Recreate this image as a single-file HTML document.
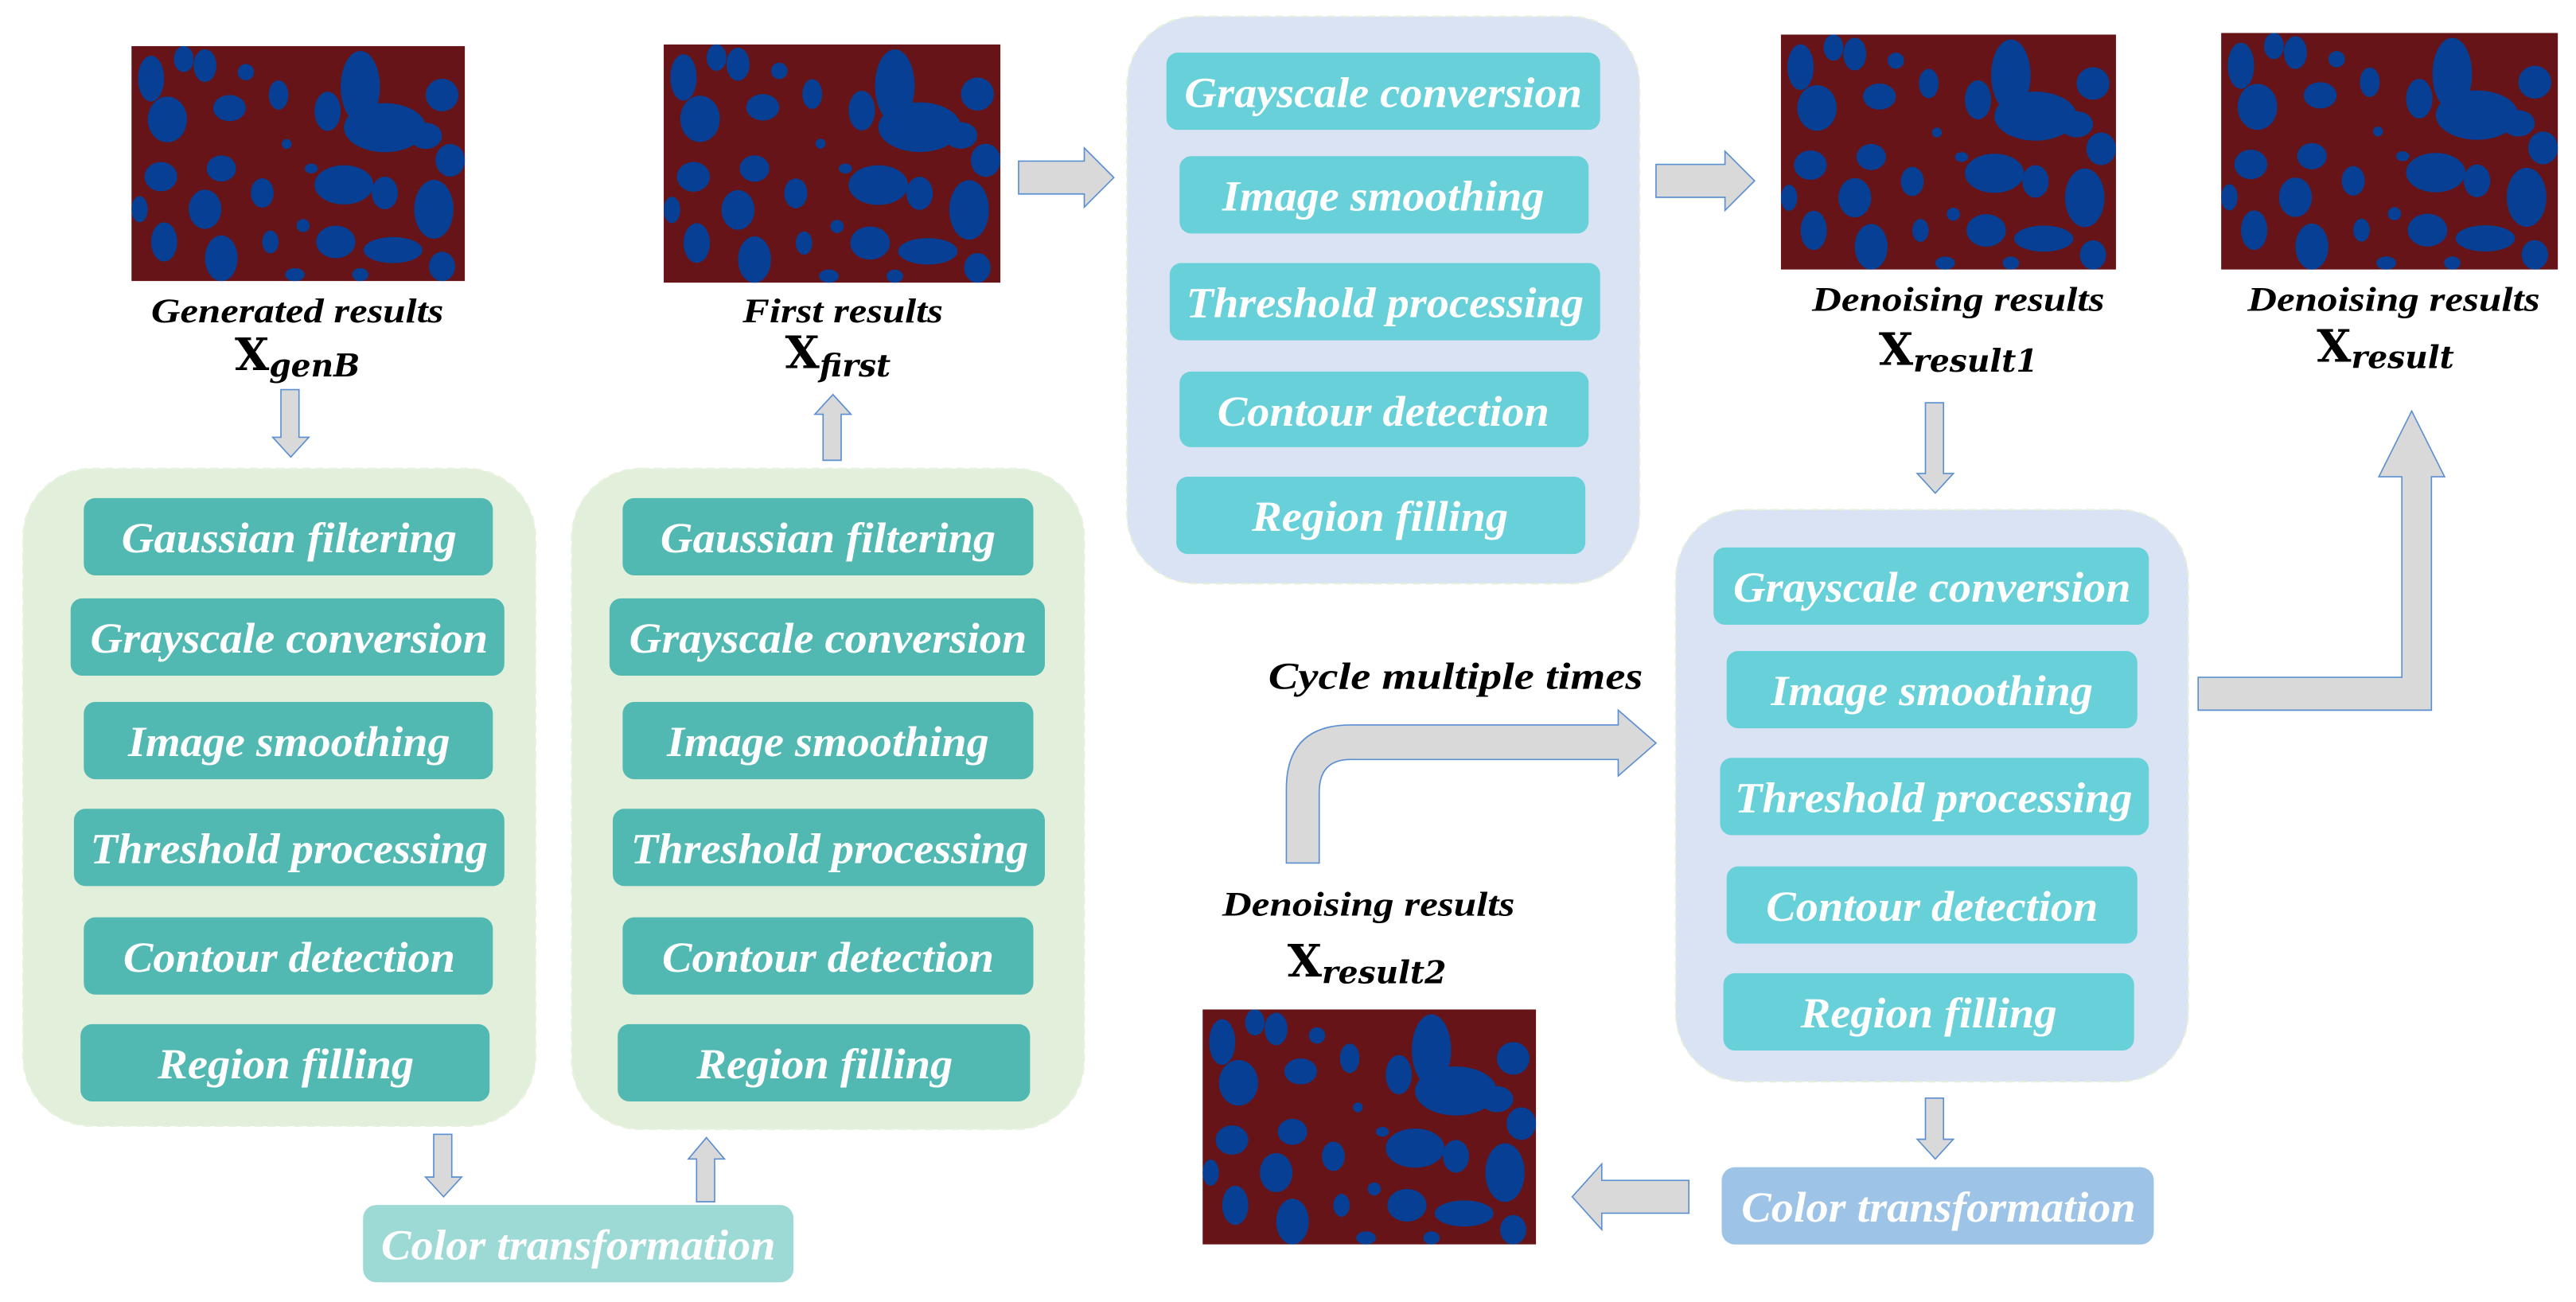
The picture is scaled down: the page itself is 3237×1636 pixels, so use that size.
<!DOCTYPE html>
<html><head><meta charset="utf-8"><style>
html,body{margin:0;padding:0;background:#fff;}
svg{display:block;}
text{font-family:"Liberation Serif",serif;font-weight:bold;font-style:italic;}
.bt{fill:#fff;font-size:26px;text-anchor:middle;}
.lb{fill:#000;font-size:21px;text-anchor:middle;}
.xl{fill:#000;font-size:27px;text-anchor:middle;font-family:"DejaVu Serif","Liberation Serif",serif;font-style:normal;}
.xl tspan{font-size:19px;font-style:italic;}
.ar{fill:#d9d9d9;stroke:#5b8fd0;stroke-width:0.8;}
</style></head><body>
<svg width="3237" height="1636" viewBox="0 0 1568 792" preserveAspectRatio="none" xmlns="http://www.w3.org/2000/svg">
<defs>
<symbol id="blob" viewBox="0 0 204 144" preserveAspectRatio="none">
<rect width="204" height="144" fill="#661418"/>
<g fill="#063f94">
<ellipse cx="12" cy="20" rx="8" ry="14"/><ellipse cx="32" cy="8" rx="6" ry="8"/>
<ellipse cx="45" cy="12" rx="7" ry="10"/><ellipse cx="70" cy="16" rx="5" ry="5"/>
<ellipse cx="22" cy="45" rx="12" ry="14"/><ellipse cx="60" cy="38" rx="10" ry="8"/>
<ellipse cx="90" cy="30" rx="6" ry="9"/><ellipse cx="140" cy="25" rx="12" ry="22"/>
<ellipse cx="155" cy="50" rx="25" ry="15"/><ellipse cx="180" cy="55" rx="10" ry="8"/>
<ellipse cx="190" cy="30" rx="10" ry="10"/><ellipse cx="195" cy="70" rx="9" ry="10"/>
<ellipse cx="120" cy="40" rx="8" ry="12"/><ellipse cx="18" cy="80" rx="10" ry="9"/>
<ellipse cx="55" cy="75" rx="9" ry="8"/><ellipse cx="45" cy="100" rx="10" ry="12"/>
<ellipse cx="80" cy="90" rx="7" ry="9"/><ellipse cx="130" cy="85" rx="18" ry="12"/>
<ellipse cx="155" cy="90" rx="8" ry="10"/><ellipse cx="185" cy="100" rx="12" ry="18"/>
<ellipse cx="20" cy="120" rx="8" ry="12"/><ellipse cx="55" cy="130" rx="10" ry="14"/>
<ellipse cx="85" cy="120" rx="5" ry="7"/><ellipse cx="105" cy="110" rx="4" ry="4"/>
<ellipse cx="125" cy="120" rx="12" ry="10"/><ellipse cx="160" cy="125" rx="18" ry="8"/>
<ellipse cx="190" cy="135" rx="8" ry="9"/><ellipse cx="100" cy="140" rx="6" ry="4"/>
<ellipse cx="140" cy="140" rx="5" ry="4"/><ellipse cx="5" cy="100" rx="5" ry="8"/>
<ellipse cx="95" cy="60" rx="3" ry="3"/><ellipse cx="110" cy="75" rx="4" ry="3"/>
</g>
</symbol>
</defs>

<use href="#blob" x="80" y="28" width="203" height="143"/>
<use href="#blob" x="404" y="27" width="205" height="145"/>
<use href="#blob" x="1084" y="21" width="204" height="143"/>
<use href="#blob" x="1352" y="20" width="205" height="144"/>
<use href="#blob" x="732" y="614" width="203" height="143"/>

<text class="lb" x="181" y="196" textLength="178" lengthAdjust="spacingAndGlyphs">Generated results</text>
<text class="xl" x="181" y="225">X<tspan dy="4">genB</tspan></text>
<text class="lb" x="513" y="196" textLength="122" lengthAdjust="spacingAndGlyphs">First results</text>
<text class="xl" x="510" y="224">X<tspan dy="5">first</tspan></text>
<text class="lb" x="1192" y="189" textLength="178" lengthAdjust="spacingAndGlyphs">Denoising results</text>
<text class="xl" x="1192" y="222">X<tspan dy="4">result1</tspan></text>
<text class="lb" x="1457" y="189" textLength="178" lengthAdjust="spacingAndGlyphs">Denoising results</text>
<text class="xl" x="1452" y="220">X<tspan dy="4">result</tspan></text>
<text class="lb" x="833" y="557" textLength="178" lengthAdjust="spacingAndGlyphs">Denoising results</text>
<text class="xl" x="832" y="594">X<tspan dy="4">result2</tspan></text>
<text class="lb" x="886" y="419" style="font-size:23px" textLength="228" lengthAdjust="spacingAndGlyphs">Cycle multiple times</text>

<rect x="14" y="285" width="312" height="400" rx="42" fill="#e2efda" stroke="#e8f2e0" stroke-dasharray="5 3"/>
<rect x="348" y="285" width="312" height="402" rx="42" fill="#e2efda" stroke="#e8f2e0" stroke-dasharray="5 3"/>
<g fill="#52b8b2">
<rect x="51" y="303" width="249" height="47" rx="7"/><rect x="43" y="364" width="264" height="47" rx="7"/>
<rect x="51" y="427" width="249" height="47" rx="7"/><rect x="45" y="492" width="262" height="47" rx="7"/>
<rect x="51" y="558" width="249" height="47" rx="7"/><rect x="49" y="623" width="249" height="47" rx="7"/>
<rect x="379" y="303" width="250" height="47" rx="7"/><rect x="371" y="364" width="265" height="47" rx="7"/>
<rect x="379" y="427" width="250" height="47" rx="7"/><rect x="373" y="492" width="263" height="47" rx="7"/>
<rect x="379" y="558" width="250" height="47" rx="7"/><rect x="376" y="623" width="251" height="47" rx="7"/>
</g>
<g class="bt">
<text x="176" y="336" textLength="204" lengthAdjust="spacingAndGlyphs">Gaussian filtering</text>
<text x="176" y="397" textLength="242" lengthAdjust="spacingAndGlyphs">Grayscale conversion</text>
<text x="176" y="460" textLength="196" lengthAdjust="spacingAndGlyphs">Image smoothing</text>
<text x="176" y="525" textLength="242" lengthAdjust="spacingAndGlyphs">Threshold processing</text>
<text x="176" y="591" textLength="202" lengthAdjust="spacingAndGlyphs">Contour detection</text>
<text x="174" y="656" textLength="156" lengthAdjust="spacingAndGlyphs">Region filling</text>
<text x="504" y="336" textLength="204" lengthAdjust="spacingAndGlyphs">Gaussian filtering</text>
<text x="504" y="397" textLength="242" lengthAdjust="spacingAndGlyphs">Grayscale conversion</text>
<text x="504" y="460" textLength="196" lengthAdjust="spacingAndGlyphs">Image smoothing</text>
<text x="505" y="525" textLength="242" lengthAdjust="spacingAndGlyphs">Threshold processing</text>
<text x="504" y="591" textLength="202" lengthAdjust="spacingAndGlyphs">Contour detection</text>
<text x="502" y="656" textLength="156" lengthAdjust="spacingAndGlyphs">Region filling</text>
</g>

<rect x="686" y="10" width="312" height="345" rx="42" fill="#dae3f3" stroke="#e6f0dc" stroke-dasharray="5 3"/>
<rect x="1020" y="310" width="312" height="348" rx="42" fill="#dae3f3" stroke="#e6f0dc" stroke-dasharray="5 3"/>
<g fill="#68d0d8">
<rect x="710" y="32" width="264" height="47" rx="7"/><rect x="718" y="95" width="249" height="47" rx="7"/>
<rect x="712" y="160" width="262" height="47" rx="7"/><rect x="718" y="226" width="249" height="46" rx="7"/>
<rect x="716" y="290" width="249" height="47" rx="7"/>
<rect x="1043" y="333" width="265" height="47" rx="7"/><rect x="1051" y="396" width="250" height="47" rx="7"/>
<rect x="1047" y="461" width="261" height="47" rx="7"/><rect x="1051" y="527" width="250" height="47" rx="7"/>
<rect x="1049" y="592" width="250" height="47" rx="7"/>
</g>
<g class="bt">
<text x="842" y="65" textLength="242" lengthAdjust="spacingAndGlyphs">Grayscale conversion</text>
<text x="842" y="128" textLength="196" lengthAdjust="spacingAndGlyphs">Image smoothing</text>
<text x="843" y="193" textLength="242" lengthAdjust="spacingAndGlyphs">Threshold processing</text>
<text x="842" y="259" textLength="202" lengthAdjust="spacingAndGlyphs">Contour detection</text>
<text x="840" y="323" textLength="156" lengthAdjust="spacingAndGlyphs">Region filling</text>
<text x="1176" y="366" textLength="242" lengthAdjust="spacingAndGlyphs">Grayscale conversion</text>
<text x="1176" y="429" textLength="196" lengthAdjust="spacingAndGlyphs">Image smoothing</text>
<text x="1177" y="494" textLength="242" lengthAdjust="spacingAndGlyphs">Threshold processing</text>
<text x="1176" y="560" textLength="202" lengthAdjust="spacingAndGlyphs">Contour detection</text>
<text x="1174" y="625" textLength="156" lengthAdjust="spacingAndGlyphs">Region filling</text>
</g>

<rect x="221" y="733" width="262" height="47" rx="8" fill="#9ddad6"/>
<text class="bt" x="352" y="766" textLength="240" lengthAdjust="spacingAndGlyphs">Color transformation</text>
<rect x="1048" y="710" width="263" height="47" rx="8" fill="#9dc3e6"/>
<text class="bt" x="1180" y="743" textLength="240" lengthAdjust="spacingAndGlyphs">Color transformation</text>

<path class="ar" d="M171 237 H182 V266 H188 L177 278 L166 266 H171 Z"/>
<path class="ar" d="M501 280 H512 V252 H518 L507 240 L496 252 H501 Z"/>
<path class="ar" d="M264 690 H275 V716 H281 L270 728 L259 716 H264 Z"/>
<path class="ar" d="M424 731 H435 V705 H441 L430 692 L419 705 H424 Z"/>
<path class="ar" d="M1172 245 H1183 V288 H1189 L1178 300 L1167 288 H1172 Z"/>
<path class="ar" d="M1172 668 H1183 V693 H1189 L1178 705 L1167 693 H1172 Z"/>
<path class="ar" d="M620 98 H660 V90 L678 108 L660 126 V118 H620 Z"/>
<path class="ar" d="M1008 100 H1050 V92 L1068 110 L1050 128 V120 H1008 Z"/>
<path class="ar" d="M1028 718 H975 V708 L957 728 L975 748 V738 H1028 Z"/>
<path class="ar" d="M1338 412 H1462 V290 H1448 L1468 250 L1488 290 H1480 V432 H1338 Z"/>
<path class="ar" d="M783 525 V480 Q783 441 822 441 H985 V432 L1008 452 L985 472 V462 H822 Q803 462 803 482 V525 Z"/>
</svg>
</body></html>
